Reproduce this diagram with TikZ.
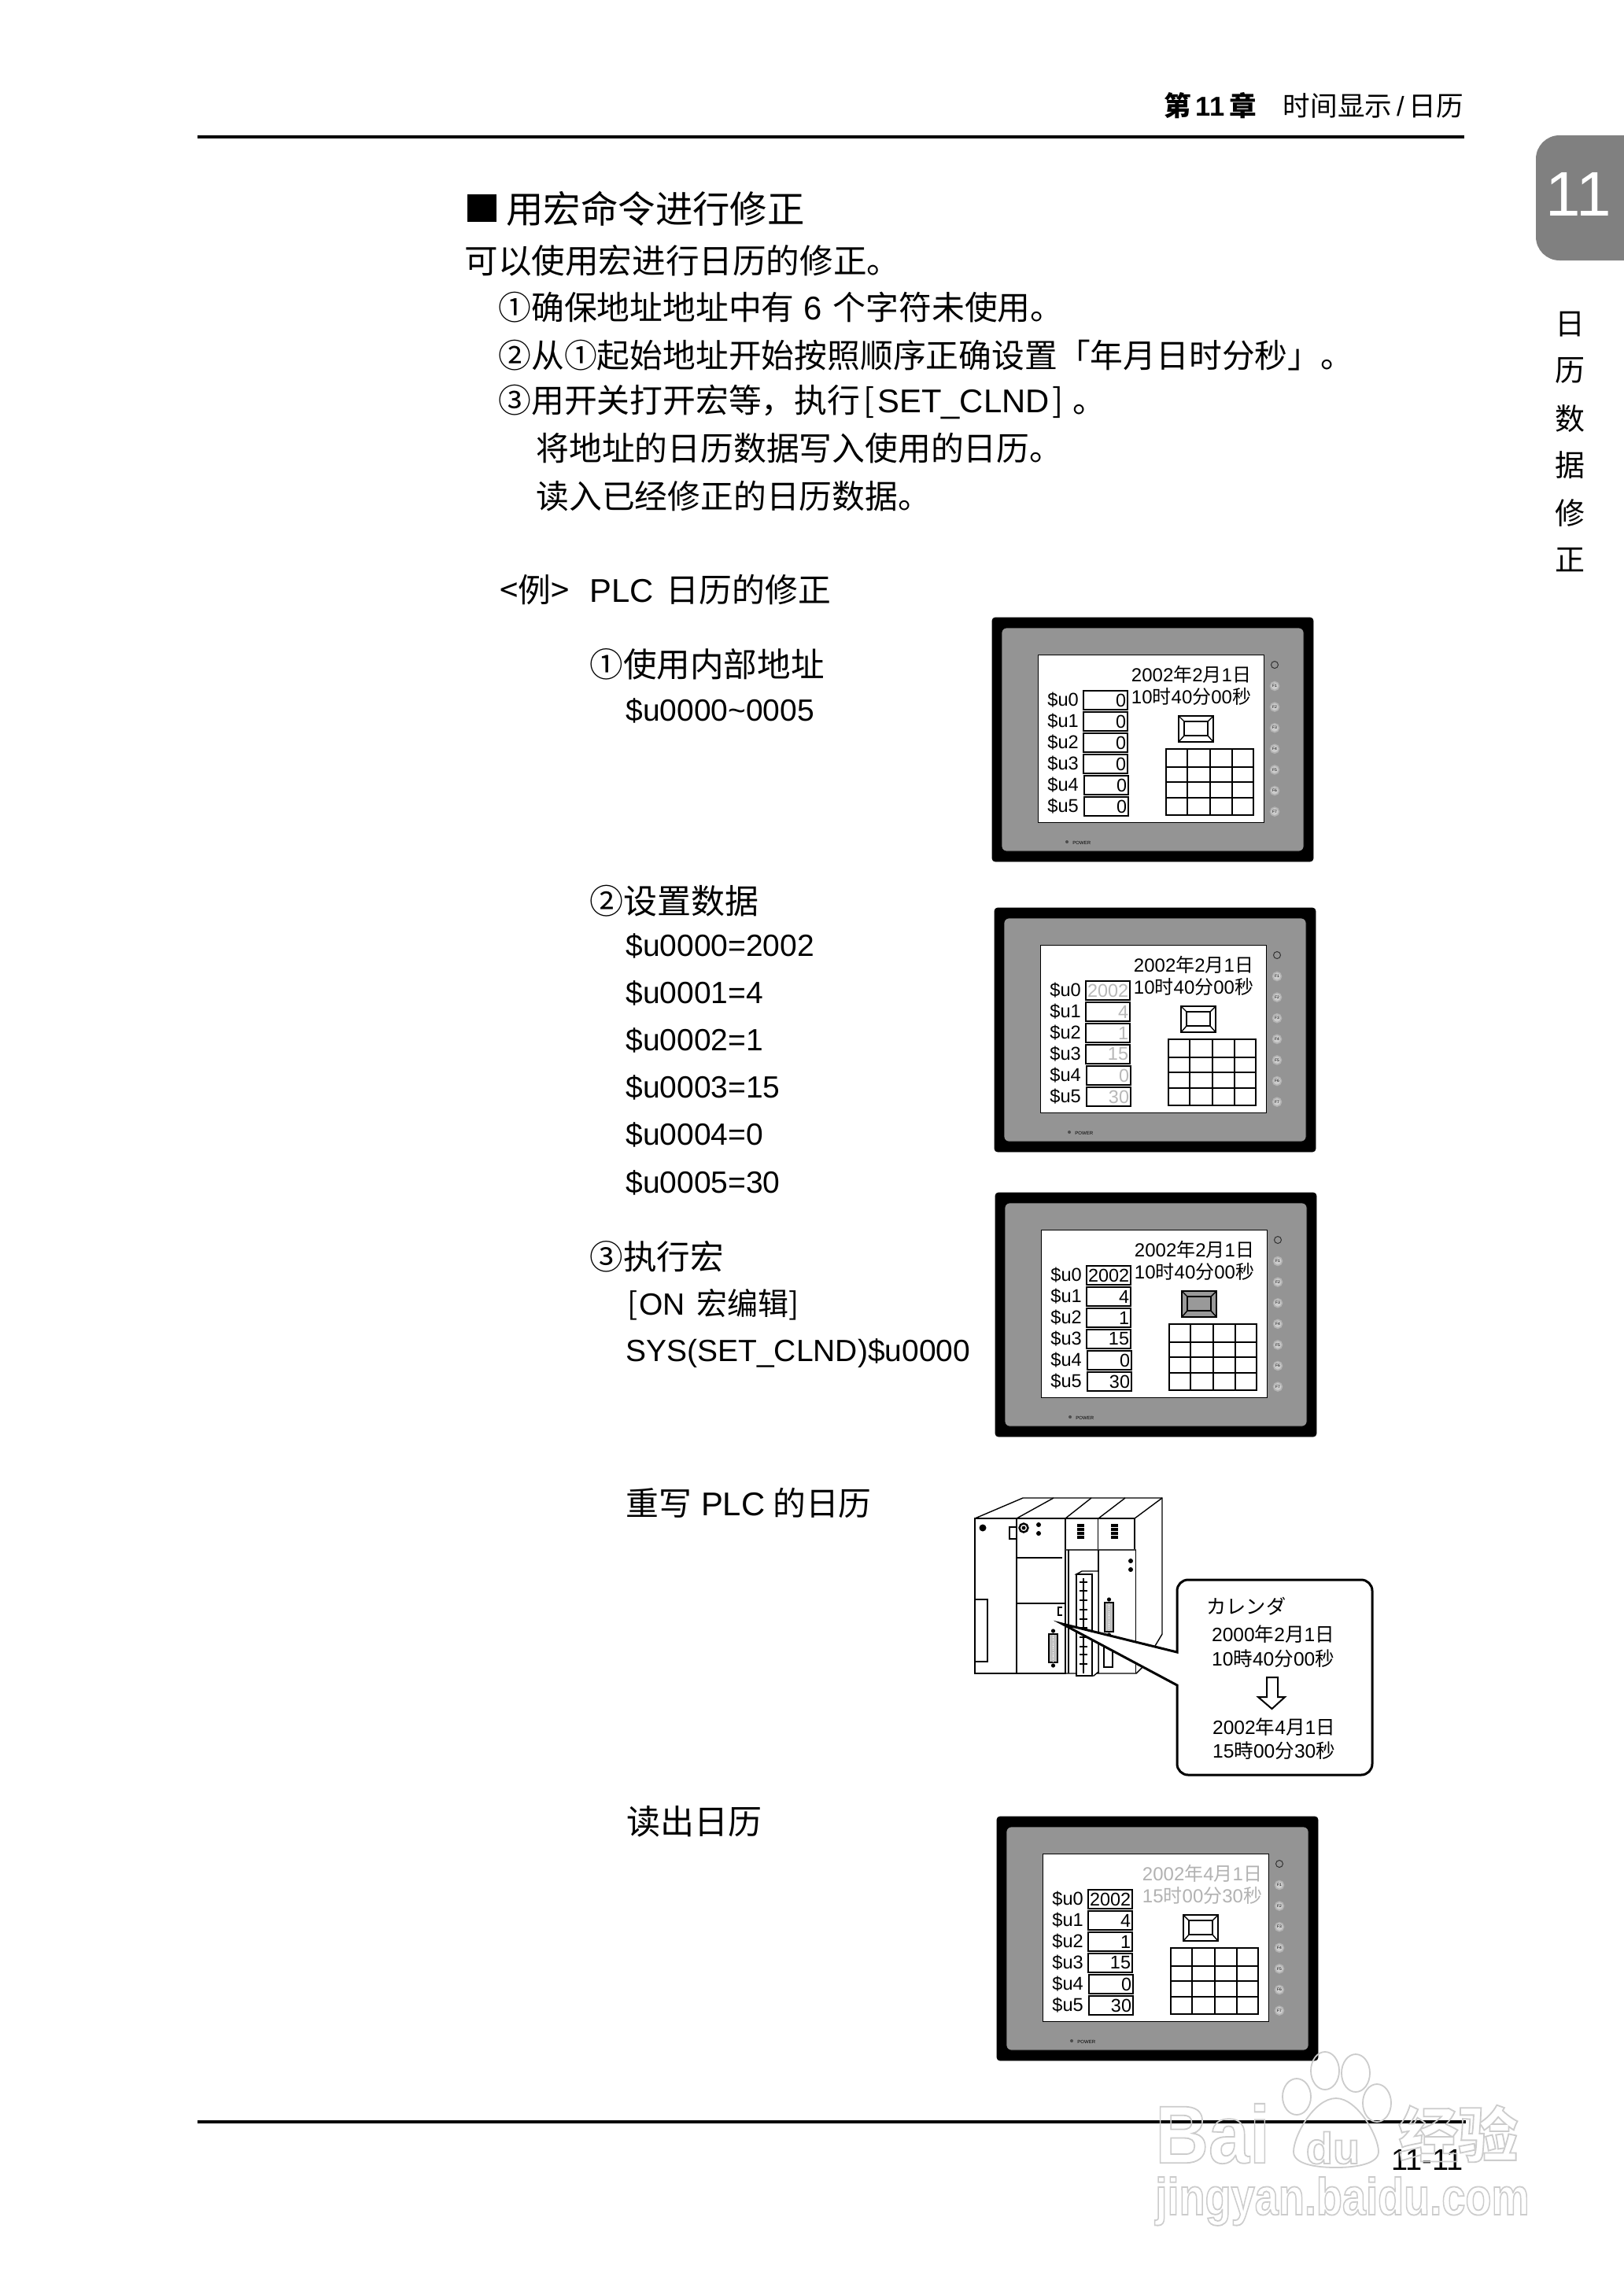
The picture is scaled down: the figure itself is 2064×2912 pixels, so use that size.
\documentclass[tikz,border=0pt]{standalone}
\usepackage{fontspec}
\setmainfont{Liberation Sans}
\newfontfamily\cjk{Noto Sans CJK SC}
\newcommand{\cn}[1]{{\cjk #1}}
\usetikzlibrary{positioning}
\tikzset{every node/.style={inner sep=0pt}, % Text sits exactly at its coordinate
      bodytext/.style={anchor=west, font=\fontsize{20.9}{24}\selectfont},
      regline/.style={anchor=north west, text height=15pt, text depth=4pt, font=\fontsize{19.5}{24}\selectfont},
      callout text/.style={font=\fontsize{12.3}{15}\selectfont},
      framebox/.style={fill=black, rounded corners=2pt},
      bezel/.style={fill=black!42, rounded corners=3pt},
      reglabel/.style={anchor=west, font=\fontsize{11.8}{14}\selectfont},
      valbox/.style={draw, line width=0.9pt, minimum height=12pt, text width=26pt, inner xsep=1pt, align=right, fill=white, font=\fontsize{11.7}{14}\selectfont},
      fkey/.style={circle, minimum size=5.5pt, fill=black!20, draw=black!30, line width=0.8pt, font=\fontsize{2.5}{3}\selectfont},
      plcline/.style={line width=0.7pt},
      wmark/.style={font=\bfseries}}
% outlined lettering of the watermark
\newcommand{\hollow}[1]{\special{pdf:code 1 Tr 0.9 w 0.8 G}#1\special{pdf:code 0 Tr}}
% prefix, x, y, values, value colour, key fill, date colour, date, time
\newcommand{\panel}[9]{
  \begin{scope}[shift={(#2,#3)}]
    \draw[framebox] (0,0) rectangle (408,310);
    \draw[bezel] (12,13) rectangle (396,297);
    \draw[fill=white, line width=0.5pt] (58,47) rectangle (345,260);
    \node[font=\fontsize{12}{14}\selectfont, text=#7] (#1date) at (253,72) {#8};
    \node[font=\fontsize{12}{14}\selectfont, text=#7] (#1time) at (253,100) {#9};
    \foreach \val [count=\k from 0] in {#4} {
      \node[reglabel] (#1u\k) at (70,{105+27*\k}) {\$u\k};
      \node[valbox, text=#5] (#1v\k) at ({144+(\k>3)},{105+27*\k}) {\val};
    }
    % touch key
    \draw[line width=0.9pt, fill=#6] (237,125) rectangle (281,158);
    \draw[line width=0.7pt, fill=#6] (244,132) rectangle (274,150);
    \draw[line width=0.7pt] (237,125) -- (244,132) (281,125) -- (274,132) (237,158) -- (244,150) (281,158) -- (274,150);
    % table
    \draw[line width=0.9pt] (221,167) rectangle (332,251);
    \foreach \tx in {248,277,305} \draw[line width=0.7pt] (\tx,167) -- (\tx,251);
    \foreach \ty in {190,209,229} \draw[line width=0.7pt] (221,\ty) -- (332,\ty);
    % side keys
    \draw[line width=0.5pt, black!80] (359,60) circle (4.5);
    \foreach \n in {1,...,7} \node[fkey] (#1f\n) at (359,{87+26.6*(\n-1)}) {F\n};
    \fill[black!70] (95,285) circle (2);
    \node[anchor=west, font=\fontsize{3}{4}\selectfont] (#1pow) at (102,286) {POWER};
  \end{scope}}
% one D-sub port of the PLC
\newcommand{\plcport}[4]{
  \fill (#1+5.5,#2-4) circle (2.6) (#1+5.5,#3+4) circle (2.6);
  \draw[line width=0.9pt, fill=black!25] (#1,#2) rectangle (#1+11,#3);
  \draw[line width=0.5pt, white, dash pattern=on 0.6pt off 0.6pt] (#1+5.5,#2+1) -- (#1+5.5,#3-1);}

\begin{document}
\begin{tikzpicture}[x=0.5pt,y=-0.5pt]
  \useasboundingbox[fill=white] (0,0) rectangle (2064,2912);

  % header and footer
  \draw[line width=1.8pt] (251,174) -- (1861,174);
  \draw[line width=1.8pt] (251,2697) -- (1863,2697);
  \node[anchor=east, font=\fontsize{17.3}{20}\selectfont] (head) at (1860,134) {\cn{\bfseries 第}\,\textbf{11}\,\cn{\bfseries 章}\hspace{17pt}\cn{时间显示}\,/\,\cn{日历}};
  \node[anchor=east, font=\fontsize{19}{22}\selectfont] (foot) at (1860,2745) {11-11};

  % chapter tab
  \fill[black!50, rounded corners=15pt] (1952,172) rectangle (2100,331);
  \node[text=white, font=\fontsize{40}{50}\selectfont] (tabno) at (2006,247) {11};
  \foreach \ch/\chy [count=\i] in {日/412,历/471,数/532,据/591,修/652,正/712}
    \node[font=\cjk\fontsize{19}{22}\selectfont] (side\i) at (1995,\chy) {\ch};

  % section text
  \node[fill=black, minimum width=18.5pt, minimum height=17.5pt] (mark) at (612.5,264.5) {};
  \node[bodytext, font=\cjk\fontsize{23.7}{28}\selectfont] (title) at (643,265) {用宏命令进行修正};
  \node[bodytext, font=\cjk\fontsize{21.3}{25}\selectfont] (intro) at (590,331) {可以使用宏进行日历的修正。};
  \node[bodytext] (stepa) at (633,391) {\cn{①确保地址地址中有}\hspace{6pt}6\hspace{7pt}\cn{个字符未使用。}};
  \node[bodytext] (stepb) at (633,452) {\cn{②从①起始地址开始按照顺序正确设置「年月日时分秒」。}};
  \node[bodytext] (stepc) at (633,511) {\cn{③用开关打开宏等，执行}\hspace{2pt}\cn{[}\hspace{2pt}SET\_CLND\hspace{2pt}\cn{]}\hspace{6pt}\cn{。}};
  \node[bodytext] (stepd) at (681,570) {\cn{将地址的日历数据写入使用的日历。}};
  \node[bodytext] (stepe) at (681,631) {\cn{读入已经修正的日历数据。}};
  \node[bodytext] (example) at (635,750) {\cn{<例>}\hspace{13pt}PLC\hspace{8pt}\cn{日历的修正}};

  % left column
  \node[bodytext, font=\fontsize{21.3}{25}\selectfont] (usea) at (749,844) {\cn{①使用内部地址}};
  \node[regline, anchor=west] (useb) at (795,905) {\$u0000\textasciitilde 0005};
  \node[bodytext, font=\fontsize{21.5}{25}\selectfont] (seta) at (749,1145) {\cn{②设置数据}};
  \node[regline, anchor=west] (regu) at (795,1204) {\$u0000=2002};
  \node[regline, below right=10.7pt and 0pt of regu.south west] (regv) {\$u0001=4};
  \node[regline, below right=10.7pt and 0pt of regv.south west] (regw) {\$u0002=1};
  \node[regline, below right=10.7pt and 0pt of regw.south west] (regx) {\$u0003=15};
  \node[regline, below right=10.7pt and 0pt of regx.south west] (regy) {\$u0004=0};
  \node[regline, below right=10.7pt and 0pt of regy.south west] (regz) {\$u0005=30};
  \node[bodytext, font=\fontsize{21.3}{25}\selectfont] (runa) at (749,1597) {\cn{③执行宏}};
  \node[regline, anchor=west] (runb) at (797,1660) {\cn{[}\hspace{1pt}ON\hspace{7pt}\cn{宏编辑]}};
  \node[regline, anchor=west] (runc) at (795,1719) {SYS(SET\_CLND)\$u0000};
  \node[bodytext] (plcline) at (795,1910) {\cn{重写}\hspace{6pt}PLC\hspace{5pt}\cn{的日历}};
  \node[bodytext, font=\fontsize{21.5}{25}\selectfont] (readout) at (796,2315) {\cn{读出日历}};

  % panels
  \panel{pa}{1261}{785}{0,0,0,0,0,0}{black}{white}{black}{2002\cn{年}2\cn{月}1\cn{日}}{10\cn{时}40\cn{分}00\cn{秒}}
  \panel{pb}{1264}{1154}{2002,4,1,15,0,30}{black!28}{white}{black}{2002\cn{年}2\cn{月}1\cn{日}}{10\cn{时}40\cn{分}00\cn{秒}}
  \panel{pc}{1265}{1516}{2002,4,1,15,0,30}{black}{black!40}{black}{2002\cn{年}2\cn{月}1\cn{日}}{10\cn{时}40\cn{分}00\cn{秒}}
  \panel{pd}{1267}{2309}{2002,4,1,15,0,30}{black}{white}{black!30}{\hspace{8pt}2002\cn{年}4\cn{月}1\cn{日}}{\hspace{8pt}15\cn{时}00\cn{分}30\cn{秒}}

  % PLC rack
  \draw[plcline] (1239,1930) -- (1300,1904) -- (1477,1904) -- (1477,2077) -- (1468,2092);
  \draw[plcline] (1292,1930) -- (1339,1904) (1354,1930) -- (1387,1904) (1396,1930) -- (1430,1904) (1442,1930) -- (1477,1904);
  \draw[plcline] (1239,1930) rectangle (1354,2127);
  \draw[plcline] (1354,1930) -- (1442,1930) -- (1442,1970) (1292,1930) -- (1292,2127) (1354,1930) -- (1354,2127) (1395.5,1930) -- (1395.5,1970);
  \draw[plcline] (1354,2127) -- (1444,2127) -- (1453,2118);
  \fill (1249,1942) circle (4.5);
  \draw[plcline] (1283,1941) rectangle (1292,1956) (1239,2033) rectangle (1255,2112);
  \draw[line width=1.2pt] (1301,1942) circle (5.5);
  \fill (1301,1942) circle (2.5) (1320,1938) circle (3) (1320,1949) circle (3);
  \draw[plcline] (1293,1980) -- (1350,1980) (1292,2038) -- (1354,2038);
  \draw[line width=0.9pt] (1350,2043) -- (1345,2043) -- (1345,2053) -- (1350,2053);
  \plcport{1333}{2077}{2113}{}
  \foreach \ledx in {1369,1412} \foreach \ledy in {1937,1942,1947,1952} \fill (\ledx,\ledy) rectangle (\ledx+9,\ledy+3.5);
  \draw[line width=1.3pt, black!75] (1354,1970) -- (1444,1970);
  \draw[plcline] (1358,1970) -- (1358,2127) (1396,1970) -- (1396,2127) (1443.5,1970) -- (1443.5,2127);
  \fill (1437,1984) circle (3) (1437,1995) circle (3);
  \plcport{1404}{2037}{2074}{}
  \draw[plcline] (1403,2083) rectangle (1414,2119);
  % terminal block
  \draw[plcline, fill=white] (1368,2001) -- (1375,1997) -- (1396,1997) -- (1396,2125) -- (1390,2130) -- (1388,2130) -- (1388,2001) -- cycle;
  \draw[line width=1.4pt, fill=white] (1368,2001) rectangle (1388,2130);
  \draw[plcline] (1377,2006) -- (1377,2127);
  \foreach \ticky in {2011,2022,2034,2046,2058,2069,2081,2093,2103,2115} \draw[plcline] (1372,\ticky) -- (1382,\ticky);

  % callout over the PLC
  \coordinate (tip) at (1350,2064);
  \draw[line width=1.5pt, fill=white] (tip) -- (1496,2142) [rounded corners=7pt] -- (1496,2256) -- (1744,2256) -- (1744,2008) -- (1496,2008) [sharp corners] -- (1496,2100) -- cycle;
  \node[anchor=west, font=\cjk\fontsize{12.6}{15}\selectfont] (cal) at (1533,2042) {カレンダ};
  \node[callout text] (olddate) at (1618,2077) {2000\cn{年}2\cn{月}1\cn{日}};
  \node[callout text] (oldtime) at (1618,2108) {10\cn{時}40\cn{分}00\cn{秒}};
  \draw[line width=1pt, fill=white] (1610,2132) -- (1624,2132) -- (1624,2157) -- (1633,2157) -- (1616.5,2172) -- (1599,2157) -- (1610,2157) -- cycle;
  \node[callout text] (newdate) at (1619,2195) {2002\cn{年}4\cn{月}1\cn{日}};
  \node[callout text] (newtime) at (1619,2225) {15\cn{時}00\cn{分}30\cn{秒}};

  % watermark
  \begin{scope}[black!20, line width=0.9pt]
    \draw (1648,2665) ellipse (18 and 23) (1684,2632) ellipse (18 and 24) (1723,2635) ellipse (18 and 24) (1750,2673) ellipse (18 and 24);
    \draw (1698,2667) .. controls (1725,2667) and (1752,2715) .. (1752,2735) .. controls (1752,2750) and (1725,2755) .. (1698,2755) .. controls (1670,2755) and (1644,2750) .. (1644,2735) .. controls (1644,2715) and (1670,2667) .. (1698,2667) -- cycle;
  \end{scope}
  \node[wmark, anchor=west] (wmbai) at (1468,2712) {\fontsize{52}{60}\selectfont\scalebox{0.9}[1]{\hollow{Bai}}};
  \node[wmark] (wmdu) at (1694,2730) {\fontsize{28}{34}\selectfont\hollow{du}};
  \node[wmark, anchor=west] (wmjy) at (1777,2712) {\cjk\fontsize{38}{44}\selectfont\hollow{经验}};
  \node[wmark, anchor=west] (wmurl) at (1468,2798) {\fontsize{33}{40}\selectfont\scalebox{0.82}[1]{\hollow{jingyan.baidu.com}}};
\end{tikzpicture}
\end{document}
